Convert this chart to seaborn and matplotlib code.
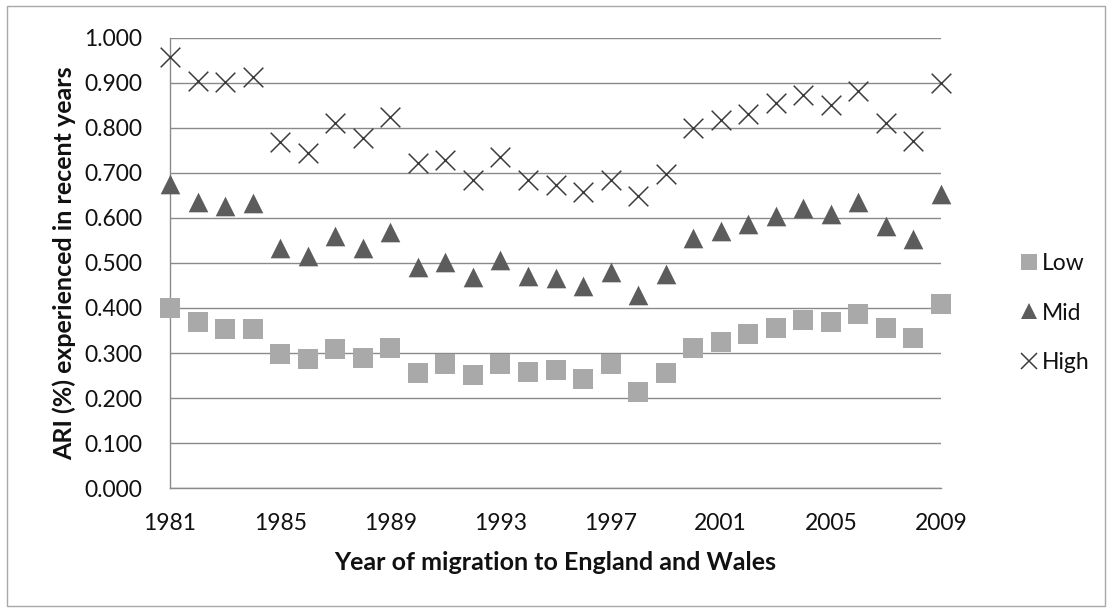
import numpy as np
import pandas as pd
import seaborn as sns
import matplotlib
matplotlib.use("Agg")
import matplotlib.pyplot as plt
from matplotlib.lines import Line2D
from matplotlib.patches import Rectangle

years = list(range(1981, 2010))
low = [0.399, 0.368, 0.353, 0.353, 0.297, 0.287, 0.309, 0.289, 0.311, 0.256,
       0.276, 0.251, 0.276, 0.259, 0.262, 0.242, 0.275, 0.213, 0.255, 0.311,
       0.325, 0.343, 0.355, 0.374, 0.369, 0.387, 0.355, 0.334, 0.409]
mid = [0.676, 0.636, 0.627, 0.633, 0.533, 0.515, 0.560, 0.534, 0.568, 0.490,
       0.503, 0.468, 0.506, 0.471, 0.466, 0.449, 0.479, 0.429, 0.476, 0.556,
       0.571, 0.587, 0.604, 0.621, 0.609, 0.634, 0.582, 0.553, 0.653]
high = [0.957, 0.903, 0.902, 0.913, 0.769, 0.743, 0.811, 0.778, 0.824, 0.721,
        0.728, 0.684, 0.735, 0.684, 0.672, 0.658, 0.684, 0.649, 0.698, 0.800,
        0.818, 0.831, 0.854, 0.872, 0.850, 0.882, 0.811, 0.771, 0.899]
series_names = ["Low", "Mid", "High"]
y_ticks = [0.0, 0.1, 0.2, 0.3, 0.4, 0.5, 0.6, 0.7, 0.8, 0.9, 1.0]
x_ticks = [1981, 1985, 1989, 1993, 1997, 2001, 2005, 2009]

df = pd.DataFrame({"year": years * 3,
                   "value": low + mid + high,
                   "group": ["Low"] * len(years) + ["Mid"] * len(years) + ["High"] * len(years)})

sns.set_theme(style="white")
plt.rcParams["font.family"] = ["Lato", "DejaVu Sans"]

fig = plt.figure(figsize=(11.09, 6.09), dpi=100)
ax = fig.add_axes([170 / 1109, 1 - 488.3 / 609, (941 - 170) / 1109, (488.3 - 37.5) / 609])

grid_c = "#8a8a8a"
for yv in y_ticks:
    ax.axhline(yv, color=grid_c, lw=1.0, zorder=1)

sub = df[df.group == "Low"]
sns.scatterplot(data=sub, x="year", y="value", ax=ax, marker="s", s=205,
                color="#a9a9a9", linewidth=0, clip_on=False, zorder=3, legend=False)
sub = df[df.group == "Mid"]
sns.scatterplot(data=sub, x="year", y="value", ax=ax, marker="^", s=200,
                color="#5c5c5c", linewidth=0, clip_on=False, zorder=3, legend=False)
sub = df[df.group == "High"]
sns.scatterplot(data=sub, x="year", y="value", ax=ax, marker="x", s=200,
                color="#3c3c3c", linewidth=1.1, clip_on=False, zorder=3, legend=False)

ax.set_xlim(1981, 2009)
ax.set_ylim(0, 1.0)
ax.set_xticks(x_ticks)
ax.set_xticklabels([str(v) for v in x_ticks])
ax.set_yticks(y_ticks)
ax.set_yticklabels([f"{v:.3f}" for v in y_ticks])
for s in ["top", "right"]:
    ax.spines[s].set_visible(False)
for s in ["left", "bottom"]:
    ax.spines[s].set_color(grid_c)
    ax.spines[s].set_linewidth(1.0)
ax.tick_params(axis="both", which="major", direction="out", length=6, width=1.0,
               color=grid_c, labelsize=16.5, labelcolor="#111111")
ax.tick_params(axis="y", pad=14)
ax.tick_params(axis="x", pad=12)
ax.set_xlabel("Year of migration to England and Wales", fontsize=18, fontweight="bold",
              color="#111111", labelpad=12)
ax.set_ylabel("ARI (%) experienced in recent years", fontsize=18, fontweight="bold",
              color="#111111", labelpad=6)

handles = [
    Line2D([], [], ls="none", marker="s", markersize=11, color="#a9a9a9", markeredgewidth=0),
    Line2D([], [], ls="none", marker="^", markersize=11, color="#5c5c5c", markeredgewidth=0),
    Line2D([], [], ls="none", marker="x", markersize=11, color="#3c3c3c", markeredgewidth=1.1),
]
fig.legend(handles, series_names, loc="center left",
           bbox_to_anchor=(1008 / 1109, 1 - 313 / 609), frameon=False,
           fontsize=16.5, handlelength=0.8, handletextpad=0.2, labelspacing=1.25,
           borderpad=0, labelcolor="#111111")

fig.patches.append(Rectangle((7 / 1109, 3 / 609), 1098 / 1109, 600 / 609,
                             transform=fig.transFigure, fill=False,
                             edgecolor="#a8a8a8", lw=1.0))

fig.savefig("out.png", dpi=100, facecolor="white")
